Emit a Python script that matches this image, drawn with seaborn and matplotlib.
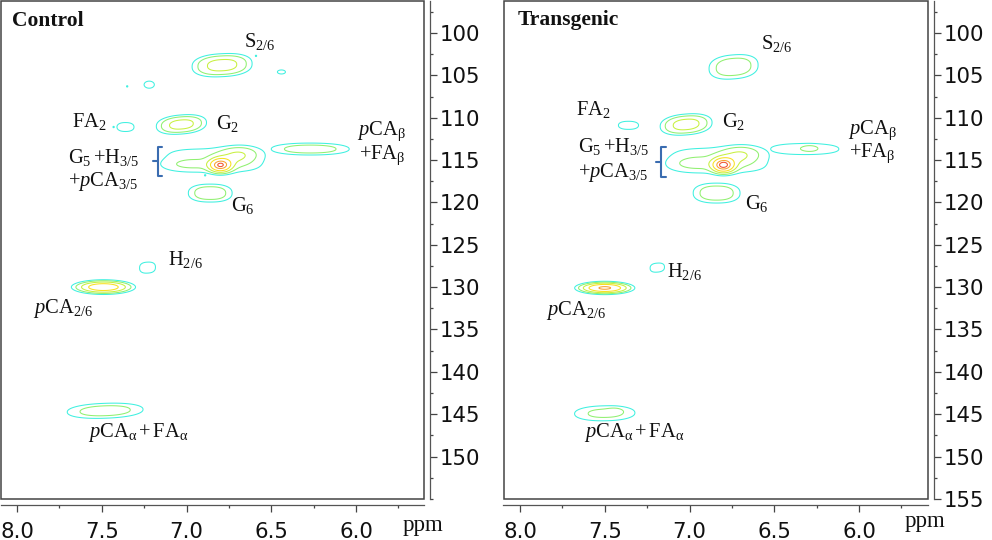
import numpy as np
import matplotlib
matplotlib.use("Agg")
import matplotlib.pyplot as plt
from matplotlib.lines import Line2D
from matplotlib.patches import Rectangle
from matplotlib.ticker import MultipleLocator
import seaborn as sns

sns.set_theme(style="white")
plt.rcParams.update({
    "font.family": "DejaVu Sans",
    "mathtext.fontset": "custom",
    "mathtext.rm": "Liberation Serif",
    "mathtext.it": "Liberation Serif:italic",
    "mathtext.bf": "Liberation Serif:bold",
})

W, H = 992, 540

# Peak tables: 1H shift, 13C shift, widths, height, tilt, flatness.
# Peaks of one resonance share a group; separate resonances do not merge.
control_h = [6.79, 7.22, 6.44, 7.35, 6.59, 7.43, 7.13, 6.89, 7.36, 7.03,
             6.84, 6.98, 6.70, 6.80, 6.86, 6.27, 7.23, 7.49, 7.48]
control_c = [103.8, 106.1, 104.6, 106.3, 102.7, 111.1, 115.5, 116.8, 111.1, 110.8,
             115.0, 115.5, 114.5, 115.6, 118.9, 113.7, 127.7, 130.0, 144.6]
control_sh = [0.116, 0.05, 0.045, 0.013, 0.013, 0.013, 0.013, 0.013, 0.075, 0.097,
              0.37, 0.11, 0.075, 0.04, 0.10, 0.183, 0.07, 0.10, 0.178]
control_sc = [0.89, 0.69, 0.45, 0.27, 0.27, 0.27, 0.27, 0.27, 0.79, 0.74,
              1.80, 0.50, 0.75, 0.50, 0.82, 0.56, 0.97, 0.46, 0.70]
control_amp = [3.2, 1.2, 1.15, 1.05, 1.05, 1.05, 1.05, 1.05, 1.25, 3.2,
               1.3, 0.6, 1.7, 7.0, 2.3, 2.2, 1.25, 6.0, 2.2]
control_tilt = [1.0, 0, 0, 0, 0, 0, 0, 0, 0, 1.5,
                0, 0, 1.5, 0, 0, 0, 1.0, 0, 0.7]
control_shape = [2.4, 2, 2, 2, 2, 2, 2, 2, 2.3, 2.3,
                 3.5, 2, 2, 2, 2.4, 2.2, 2.5, 2, 2.2]
control_group = [0, 1, 2, 3, 4, 5, 6, 7, 8, 9,
                 10, 10, 10, 10, 11, 12, 13, 14, 15]

transgenic_h = [6.74, 7.36, 7.02, 6.82, 6.97, 6.71, 6.80, 6.84, 6.32, 6.29, 7.19, 7.50, 7.50, 7.44]
transgenic_c = [104.0, 110.9, 110.8, 115.0, 115.4, 114.5, 115.6, 118.9, 113.7, 113.6, 127.7, 130.1, 144.9, 144.6]
transgenic_sh = [0.112, 0.098, 0.099, 0.37, 0.11, 0.075, 0.04, 0.107, 0.223, 0.03, 0.07, 0.09, 0.157, 0.03]
transgenic_sc = [1.10, 0.79, 0.80, 1.90, 0.60, 0.75, 0.52, 0.91, 0.72, 0.25, 0.88, 0.40, 0.78, 0.25]
transgenic_amp = [2.3, 1.2, 3.3, 1.3, 0.7, 1.7, 7.5, 2.3, 1.5, 0.6, 1.2, 7.0, 1.9, 0.5]
transgenic_tilt = [1.5, 0, 1.5, 0, 0, 1.5, 0, 0, 0, 0, 1.5, 0, 0.3, 0]
transgenic_shape = [2.4, 2.3, 2.3, 3.5, 2, 2, 2, 2.4, 2.3, 2, 2.5, 2, 2.2, 2]
transgenic_group = [0, 1, 2, 3, 3, 3, 3, 4, 5, 5, 6, 7, 8, 8]

contour_levels = [1.0, 1.6, 2.6, 4.1, 6.5, 8.2]
contour_colors = sns.blend_palette(
    ["#3ff0e0", "#90f070", "#c8f040", "#f8e020", "#f8a030", "#f05030"], 6)

y_majors = [100, 105, 110, 115, 120, 125, 130, 135, 140, 145, 150]
x_majors = [8.0, 7.5, 7.0, 6.5, 6.0]


def field(hh, cc, ph, pc, sh, sc, amp, tilt, shape, group):
    groups = {}
    for a, b, s, t, m, k, p, g in zip(ph, pc, sh, sc, amp, tilt, shape, group):
        # keep the outer contour where the width says, whatever the flatness
        f = (2 * np.log(m)) ** (0.5 - 1 / p) if m > 1 else 1.0
        dh = hh - a
        rp = np.abs(dh / (s * f)) ** p + np.abs((cc - b - k * dh) / (t * f)) ** p
        groups[g] = groups.get(g, 0) + m * np.exp(-0.5 * rp)
    z = np.zeros_like(hh)
    for part in groups.values():
        z = np.maximum(z, part)
    return z


fig = plt.figure(figsize=(W / 100, H / 100), dpi=100, facecolor="white")


def panel(left, right, x80, peaks, yticks):
    top, bottom = 0.5, 499
    ax = fig.add_axes([left / W, 1 - bottom / H, (right - left) / W, (bottom - top) / H])
    pxh = 169.5
    pxc = 8.47
    ax.set_xlim(8.0 + (x80 - left) / pxh, 8.0 + (x80 - right) / pxh)
    ax.set_ylim(100 + (bottom - 33) / pxc, 100 + (top - 33) / pxc)
    hv = np.arange(5.6, 8.1, 0.0025)
    cv = np.arange(96.0, 155.0, 0.05)
    hh, cc = np.meshgrid(hv, cv)
    ax.contour(hh, cc, field(hh, cc, *peaks), levels=contour_levels,
               colors=contour_colors, linewidths=0.75)
    for s in ("left", "top"):
        ax.spines[s].set_visible(False)
    for s in ("right", "bottom"):
        ax.spines[s].set_position(("outward", 4.0))
        ax.spines[s].set_color("#555555")
        ax.spines[s].set_linewidth(0.9)
    ax.add_patch(Rectangle((0, 0), 1, 1, transform=ax.transAxes, fill=False,
                           ec="#444444", lw=1.1, clip_on=False, zorder=5))
    ax.xaxis.set_ticks_position("bottom")
    ax.yaxis.set_ticks_position("right")
    ax.set_xticks(x_majors)
    ax.set_xticklabels([f"{v:.1f}" for v in x_majors])
    ax.set_yticks(yticks)
    ax.set_yticklabels([str(v) for v in yticks])
    ax.xaxis.set_minor_locator(MultipleLocator(0.25))
    ax.yaxis.set_minor_locator(MultipleLocator(2.5))
    ax.tick_params(axis="both", which="major", length=5, width=0.9, color="#444444",
                   labelsize=15.3, labelcolor="#111111", pad=2)
    ax.tick_params(axis="x", which="major", pad=7.5)
    ax.tick_params(axis="both", which="minor", length=2.4, width=0.9, color="#444444")
    ax.tick_params(bottom=True, right=True, left=False, top=False, which="both")
    ax.grid(False)
    return ax


panel(0.5, 424, 17,
      (control_h, control_c, control_sh, control_sc, control_amp, control_tilt,
       control_shape, control_group),
      y_majors)
panel(503.5, 928, 520,
      (transgenic_h, transgenic_c, transgenic_sh, transgenic_sc, transgenic_amp,
       transgenic_tilt, transgenic_shape, transgenic_group),
      y_majors + [155])

SERIF = "Liberation Serif"


def label(px, py, s, size=14.8, **kw):
    fig.text(px / W, 1 - py / H, s, family=SERIF, fontsize=size, color="#111111",
             ha="left", va="center", **kw)


label(12, 21, "Control", size=15.5, fontweight="bold")
label(518, 20, "Transgenic", size=15.5, fontweight="bold")

S26 = r"$\mathrm{S}_{2/6}$"
G2 = r"$\mathrm{G}_{2}$"
G6 = r"$\mathrm{G}_{6}$"
FA2 = r"$\mathrm{FA}_{2}$"
H26 = r"$\mathrm{H}_{2/6}$"
G5 = r"$\mathrm{G}_{5}\,\mathrm{+H}_{3/5}$"
PCA35 = r"$\mathrm{+}p\mathrm{CA}_{3/5}$"
PCAB = r"$p\mathrm{CA}_{\mathrm{β}}$"
FAB = r"$\mathrm{+FA}_{\mathrm{β}}$"
PCA26 = r"$p\mathrm{CA}_{2/6}$"
PCAA = r"$p\mathrm{CA}_{\mathrm{α}}\,\mathrm{+}\,\mathrm{FA}_{\mathrm{α}}$"

label(244, 42, S26); label(216, 123, G2); label(72, 122, FA2)
label(68, 157, G5); label(68, 181, PCA35); label(357, 131, PCAB); label(359, 155, FAB)
label(231, 205, G6); label(168, 260, H26); label(33, 309, PCA26); label(88, 433, PCAA)

label(761, 43, S26); label(722, 121, G2); label(576, 110, FA2)
label(578, 147, G5); label(578, 172, PCA35); label(848, 130, PCAB); label(849, 153, FAB)
label(745, 204, G6); label(667, 271, H26); label(546, 310, PCA26); label(584, 433, PCAA)

label(403, 525, "ppm", size=16.5)
label(905, 522, "ppm", size=16.5)


def bracket(x0, x1, tip, y0, y1, ym):
    fig.add_artist(Line2D([x1 / W, x0 / W, x0 / W, x1 / W],
                          [1 - y0 / H, 1 - y0 / H, 1 - y1 / H, 1 - y1 / H],
                          color="#3a6cb0", lw=1.5))
    fig.add_artist(Line2D([tip / W, x0 / W], [1 - ym / H, 1 - ym / H],
                          color="#3a6cb0", lw=1.5))


bracket(158, 162, 153, 147, 176, 161)
bracket(661, 666, 656, 147, 177, 162)

fig.savefig("out.png", dpi=100)
